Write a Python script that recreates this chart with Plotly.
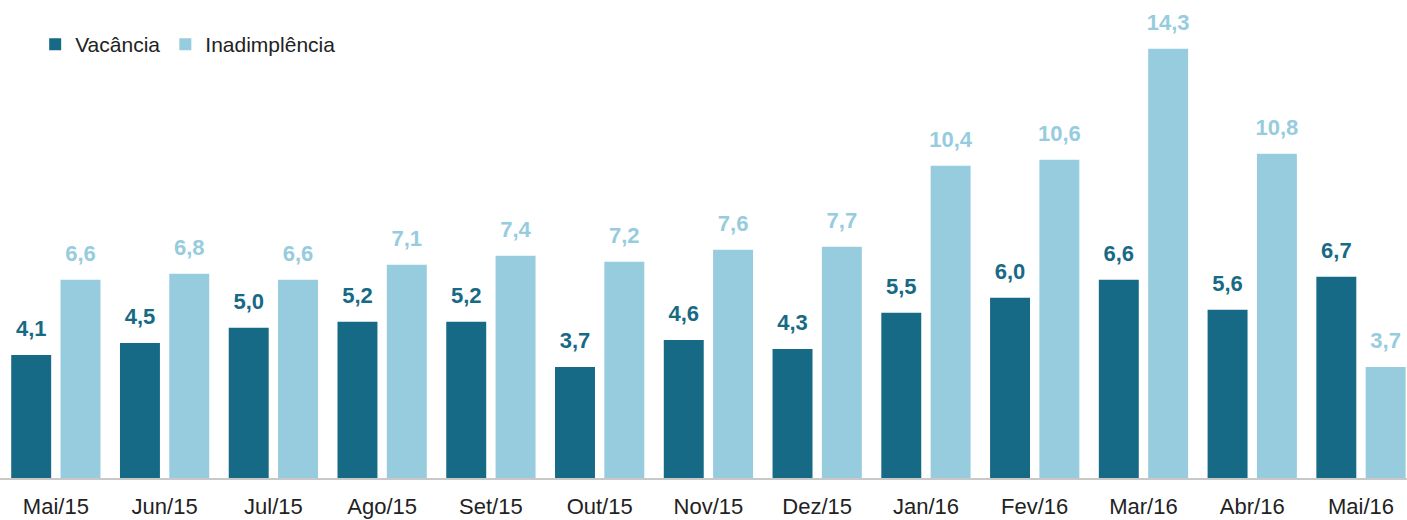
import plotly.graph_objects as go

# --- Dados ---
meses = ["Mai/15", "Jun/15", "Jul/15", "Ago/15", "Set/15", "Out/15", "Nov/15",
         "Dez/15", "Jan/16", "Fev/16", "Mar/16", "Abr/16", "Mai/16"]
vacancia = [4.1, 4.5, 5.0, 5.2, 5.2, 3.7, 4.6, 4.3, 5.5, 6.0, 6.6, 5.6, 6.7]
inadimplencia = [6.6, 6.8, 6.6, 7.1, 7.4, 7.2, 7.6, 7.7, 10.4, 10.6, 14.3, 10.8, 3.7]

cor_vac = "#176a85"
cor_inad = "#96ccde"
fonte = "Liberation Sans, Arial, sans-serif"

fig = go.Figure()

series = [("Vacância", vacancia, cor_vac, "a"), ("Inadimplência", inadimplencia, cor_inad, "b")]

for nome, valores, cor, grupo in series:
    fig.add_trace(go.Bar(
        x=meses, y=valores, name=nome,
        marker=dict(color=cor, line=dict(width=0)),
        offsetgroup=grupo,
    ))

# rótulos de valor (scatter agrupado para alinhar com as barras)
for nome, valores, cor, grupo in series:
    fig.add_trace(go.Scatter(
        x=meses, y=valores, mode="markers+text",
        text=[f"{v:.1f}".replace(".", ",") for v in valores],
        textposition="top center",
        textfont=dict(family=fonte, size=22, color=cor, weight="bold"),
        marker=dict(size=20, opacity=0),
        offsetgroup=grupo, showlegend=False, hoverinfo="skip",
        cliponaxis=False,
    ))

fig.update_layout(
    width=1407, height=520,
    margin=dict(l=0, r=0, t=0, b=42, autoexpand=False),
    barmode="group", bargap=0.093, bargroupgap=0.19,
    scattermode="group", scattergap=0.093,
    plot_bgcolor="white", paper_bgcolor="white",
    font=dict(family=fonte, size=21, color="#222222"),
    showlegend=True,
    legend=dict(orientation="h", x=0.025, xanchor="left",
                y=1 - 44.5 / 478, yanchor="middle",
                font=dict(size=21, color="#222222"),
                bgcolor="rgba(0,0,0,0)"),
    xaxis=dict(range=[-0.5135, 12.423], showline=True, linecolor="#c8c8c8", linewidth=2,
               automargin=False, ticks="", ticklabelstandoff=8,
               tickfont=dict(size=22, color="#222222")),
    yaxis=dict(range=[0, 15.92], visible=False, showgrid=False, automargin=False),
)

fig.write_html("out.html", config={"displayModeBar": False},
               post_script="document.body.style.margin='0';")
